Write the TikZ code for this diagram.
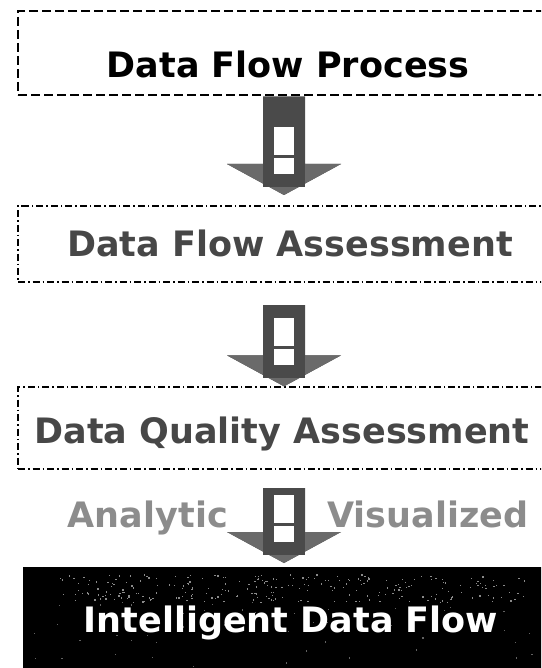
\documentclass[tikz,border=0pt]{standalone}
\usepackage{fontspec}
\setmainfont{DejaVu Sans}
\usetikzlibrary{calc}
\definecolor{arrowdark}{HTML}{4A4A4A}
\definecolor{headgray}{HTML}{6A6A6A}
\definecolor{txtdark}{HTML}{474747}
\definecolor{txtlight}{HTML}{8C8C8C}
\definecolor{speck}{HTML}{8A8A8A}
\tikzset{
  boxA/.style={draw=black, line width=2.6pt, dash pattern=on 9pt off 4pt, inner sep=0pt},
  boxB/.style={draw=black, line width=1.3pt, dash pattern=on 7pt off 3pt on 1.5pt off 3pt, inner sep=0pt},
  lbl/.style={font=\fontsize{35}{40}\selectfont\bfseries, inner sep=0pt, anchor=base},
  fatfill/.style={fill=arrowdark},
  headfill/.style={fill=headgray},
  win/.style={fill=white},
}
\newcommand{\fatarrow}[2]{%
  \fill[fatfill] ($(#1)+(-21,0)$) -- ($(#2)+(-21,-31)$) -- ($(#2)+(-57,-31)$) -- (#2) -- ($(#2)+(57,-31)$) -- ($(#2)+(21,-31)$) -- ($(#1)+(21,0)$) -- cycle;
  \fill[headfill] ($(#2)+(-57,-31)$) -- (#2) -- ($(#2)+(57,-31)$) -- ($(#2)+(21,-31)$) -- ($(#2)+(21,-16)$) -- ($(#2)+(-21,-16)$) -- ($(#2)+(-21,-31)$) -- cycle;
  \fill[fatfill] ($(#2)+(-21,-31)$) rectangle ($(#2)+(21,-8)$);
  \fill[win] ($(#2)+(-10,-68)$) rectangle ($(#2)+(10,-40)$);
  \fill[win] ($(#2)+(-10,-37)$) rectangle ($(#2)+(10,-21)$);
}
\begin{document}
\begin{tikzpicture}[x=1pt,y=-1pt]
\useasboundingbox (0,0) rectangle (541,668);
\clip (0,0) rectangle (541,668);
% boxes
\node[boxA, minimum width=540pt, minimum height=84pt] (b1) at (288,53) {};
\node[boxB, minimum width=540pt, minimum height=76pt] (b2) at (288,244) {};
\node[boxB, minimum width=540pt, minimum height=82pt] (b3) at (288,428) {};
\node[fill=black, minimum width=540pt, minimum height=120pt, inner sep=0pt] (b4) at (293,627) {};
% speckle texture in the dark box
\pgfmathsetseed{7}
\foreach \i in {1,...,260}{
  \pgfmathsetmacro{\sx}{60+rnd*470}
  \pgfmathsetmacro{\sy}{574+rnd*28}
  \fill[speck] (\sx,\sy) rectangle ++(1.3,1.3);
}
\foreach \i in {1,...,50}{
  \pgfmathsetmacro{\sx}{30+rnd*505}
  \pgfmathsetmacro{\sy}{600+rnd*66}
  \fill[speck!70!black] (\sx,\sy) rectangle ++(1.2,1.2);
}
% labels
\node[lbl, text=black] (t1) at (288,78) {Data Flow Process};
\node[lbl, text=txtdark] (t2) at (290,256) {Data Flow Assessment};
\node[lbl, text=txtdark] (t3) at (282,443) {Data Quality Assessment};
\node[lbl, text=txtlight, anchor=base east] (ta) at (228,527) {Analytic};
\node[lbl, text=txtlight, anchor=base west] (tv) at (327,527) {Visualized};
\node[lbl, text=white] (t4) at (291,632) {Intelligent Data Flow};
% arrows
\coordinate (a1s) at (b1.south -| 284,0);
\coordinate (a1e) at (284,195);
\coordinate (a2s) at (284,305);
\coordinate (a2e) at (b3.north -| 284,0);
\coordinate (a3s) at (284,488);
\coordinate (a3e) at (284,563);
\fatarrow{a1s}{a1e}
\fatarrow{a2s}{a2e}
\fatarrow{a3s}{a3e}
\end{tikzpicture}
\end{document}
